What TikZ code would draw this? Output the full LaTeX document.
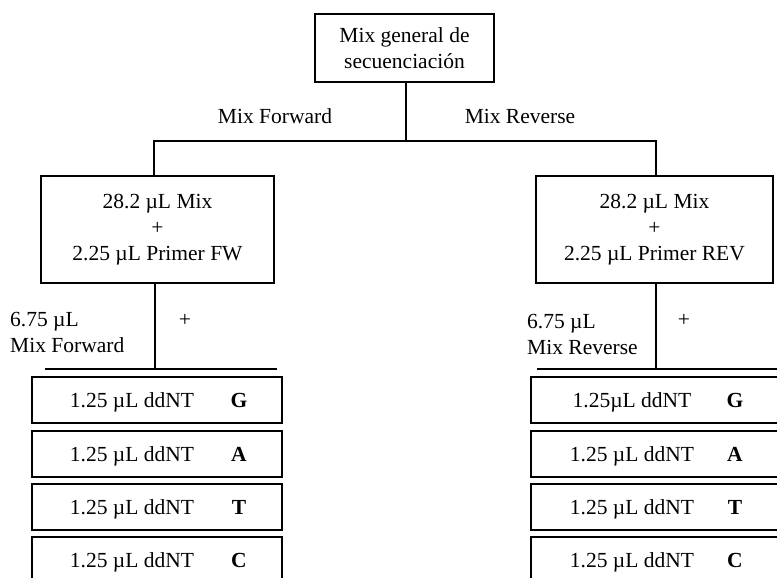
\documentclass[tikz,border=0pt]{standalone}
\usepackage{fontspec}
\setmainfont{Liberation Serif}
\begin{document}
\begin{tikzpicture}[x=1pt,y=-1pt,
  every node/.style={font=\fontsize{21.5}{26}\selectfont, inner sep=0pt},
  boxnode/.style={draw, line width=1.5pt, rectangle, align=center},
  conn/.style={line width=1.1pt},
  rowtxt/.style={anchor=base},
  lbl/.style={align=left, anchor=west}]
\useasboundingbox (0,0) rectangle (777,578);
\clip (0,0) rectangle (777,578);
% top box
\node[boxnode, minimum width=179pt, minimum height=68pt] (top) at (404.5,48) {Mix general de\\secuenciación};
\node (lf) at (275,116) {Mix Forward};
\node (lr) at (520,116) {Mix Reverse};
% second level boxes
\node[boxnode, minimum width=233pt, minimum height=107pt] (fw) at (157.5,229.5) {28.2 µL Mix\\+\\2.25 µL Primer FW};
\node[boxnode, minimum width=237pt, minimum height=107pt] (rev) at (654.5,229.5) {28.2 µL Mix\\+\\2.25 µL Primer REV};
% connectors top
\coordinate (j) at (406,141);
\coordinate (jl) at (154,141);
\coordinate (jr) at (656,141);
\draw[conn] (top.south -| j) -- (j);
\draw[conn] (jl |- fw.north) -- (jl) -- (jr) -- (jr |- rev.north);
% left column
\coordinate (vl) at (155,369);
\coordinate (hl1) at (45,369);
\coordinate (hl2) at (277,369);
\draw[conn] (vl |- fw.south) -- (vl);
\draw[conn] (hl1) -- (hl2);
\node[lbl] (ql) at (10,332) {6.75 µL\\Mix Forward};
\node (pl) at (185,320) {+};
% right column
\coordinate (vr) at (656,369);
\coordinate (hr1) at (537,369);
\coordinate (hr2) at (790,369);
\draw[conn] (vr |- rev.south) -- (vr);
\draw[conn] (hr1) -- (hr2);
\node[lbl] (qr) at (527,334) {6.75 µL\\Mix Reverse};
\node (pr) at (684,320) {+};
% ddNT boxes
\foreach \n/\y/\b in {g/400/G,a/454/A,t/507/T,c/560/C}{
  \draw[line width=1.5pt] (32,\y-23) rectangle (282,\y+23);
  \node[rowtxt] (l\n) at (132,\y+7) {1.25 µL ddNT};
  \node[rowtxt] (ll\n) at (239,\y+7) {\textbf{\b}};
  \draw[line width=1.5pt] (531,\y-23) rectangle (800,\y+23);
}
\node[rowtxt] (rg) at (632,407) {1.25µL ddNT};
\node[rowtxt] (ra) at (632,461) {1.25 µL ddNT};
\node[rowtxt] (rt) at (632,514) {1.25 µL ddNT};
\node[rowtxt] (rc) at (632,567) {1.25 µL ddNT};
\node[rowtxt] (rlg) at (735,407) {\textbf{G}};
\node[rowtxt] (rla) at (735,461) {\textbf{A}};
\node[rowtxt] (rlt) at (735,514) {\textbf{T}};
\node[rowtxt] (rlc) at (735,567) {\textbf{C}};
\end{tikzpicture}
\end{document}
